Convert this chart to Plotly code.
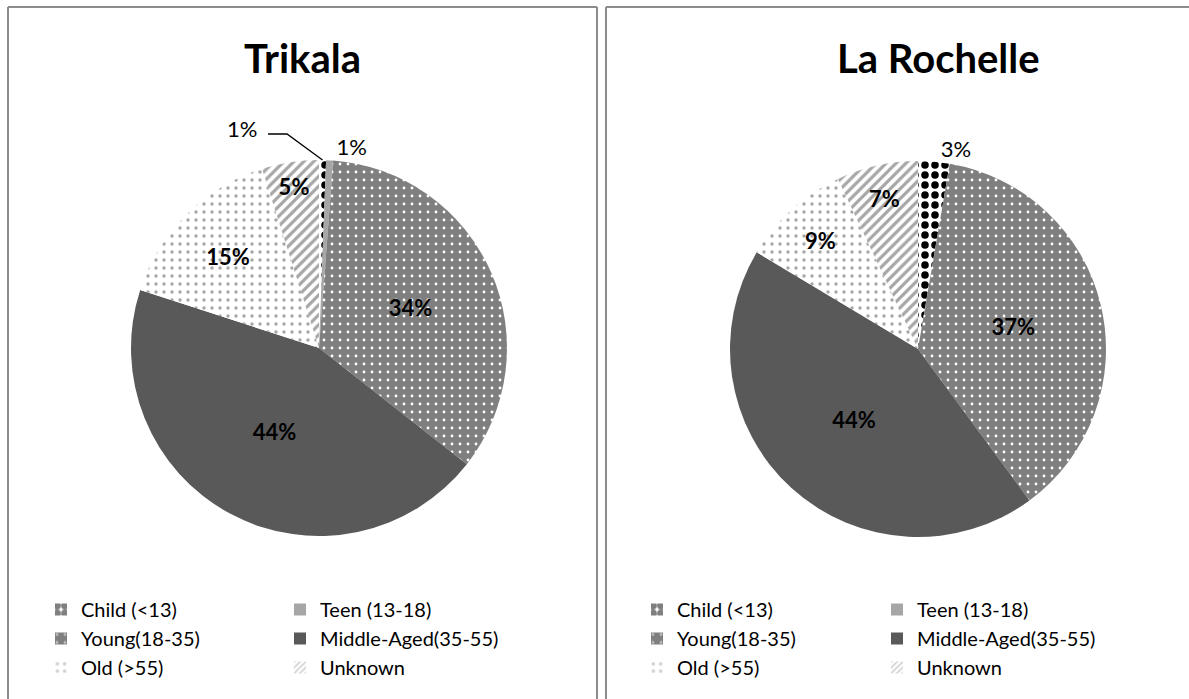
import math
import plotly.graph_objects as go

# ---------------- data ----------------
categories = ["Child (<13)", "Teen (13-18)", "Young(18-35)",
              "Middle-Aged(35-55)", "Old (>55)", "Unknown"]
city_names = ["Trikala", "La Rochelle"]
trikala_values = [0.6, 0.6, 34.4, 44.4, 15.1, 4.9]
la_rochelle_values = [2.7, 0.0, 37.2, 43.7, 9.4, 7.0]

# ---------------- styles ----------------
W, H = 1189, 699
FONT = "Lato"
bg_colors = ["#ffffff", "#a6a6a6", "#7f7f7f", "#595959", "#ffffff", "#ffffff"]
pat_shapes = [".", "", ".", "", ".", "/"]
pat_fg = ["#000000", "#a6a6a6", "#ffffff", "#595959", "#a6a6a6", "#a6a6a6"]
pat_size = [10, 8, 8, 8, 8, 7]
pat_solid = [0.45, 0.3, 0.1, 0.3, 0.14, 0.45]
leg_size = [12, 8, 12, 8, 9, 5]
leg_solid = [0.75, 0.3, 0.1, 0.3, 0.2, 0.45]


def px_x(v):
    return v / W


def px_y(v):
    return 1 - v / H


def pattern():
    return dict(shape=pat_shapes, fgcolor=pat_fg, bgcolor=bg_colors,
                size=pat_size, solidity=pat_solid, fillmode="replace")


fig = go.Figure()

pies = [
    (trikala_values, (131, 507), (160, 536)),
    (la_rochelle_values, (730, 1106), (161, 537)),
]
leader_slices = []
for k, (vals, (x0, x1), (y0, y1)) in enumerate(pies):
    total = sum(vals)
    pos = []
    for j, v in enumerate(vals):
        if v == 0:
            pos.append("none")
        elif v / total < 0.04:
            # first tiny slice of Trikala gets a leader-line label
            if k == 0 and j == 0:
                pos.append("none")
                leader_slices.append((vals, j, (x0, x1), (y0, y1)))
            else:
                pos.append("outside")
        else:
            pos.append("inside")
    fig.add_trace(go.Pie(
        labels=categories, values=vals, sort=False, direction="clockwise",
        rotation=0,
        domain=dict(x=[px_x(x0), px_x(x1)], y=[px_y(y1), px_y(y0)]),
        marker=dict(colors=bg_colors, pattern=pattern(), line=dict(width=0)),
        texttemplate="%{percent:.0%}", textposition=pos,
        insidetextorientation="horizontal",
        insidetextfont=dict(family=FONT, size=22, color="black", weight="bold"),
        outsidetextfont=dict(family=FONT, size=22, color="black"),
        showlegend=False, hoverinfo="label+percent",
    ))

# label with leader line for the tiny slice
for vals, j, (x0, x1), (y0, y1) in leader_slices:
    total = sum(vals)
    cx, cy, r = (x0 + x1) / 2, (y0 + y1) / 2, (x1 - x0) / 2
    mid = 2 * math.pi * (sum(vals[:j]) + vals[j] / 2) / total
    tip_x, tip_y = cx + r * math.sin(mid), cy - r * math.cos(mid)
    pct = round(100 * vals[j] / total)
    fig.add_annotation(text=f"{pct}%", x=px_x(242), y=px_y(129),
                       xref="paper", yref="paper", showarrow=False,
                       xanchor="center", yanchor="middle",
                       font=dict(family=FONT, size=22, color="black"))
    fig.add_shape(type="path", xref="paper", yref="paper",
                  path=(f"M {px_x(268)},{px_y(134)} L {px_x(287)},{px_y(134)} "
                        f"L {px_x(tip_x)},{px_y(tip_y)}"),
                  line=dict(color="black", width=1.3))

# legend entries (two columns per panel)
legend_cols = [("legend", [0, 2, 4]), ("legend2", [1, 3, 5]),
               ("legend3", [0, 2, 4]), ("legend4", [1, 3, 5])]
for lg, idxs in legend_cols:
    for i in idxs:
        fig.add_trace(go.Bar(
            x=[None], y=[None], name=categories[i], legend=lg,
            marker=dict(color=bg_colors[i], line=dict(width=0),
                        pattern=dict(shape=pat_shapes[i], fgcolor=pat_fg[i],
                                     bgcolor=bg_colors[i], size=leg_size[i],
                                     solidity=leg_solid[i])),
            showlegend=True, hoverinfo="skip",
        ))

leg_common = dict(orientation="v", traceorder="normal", bgcolor="rgba(0,0,0,0)",
                  font=dict(family=FONT, size=20, color="black"),
                  xanchor="left", yanchor="top", itemclick=False,
                  itemdoubleclick=False)
leg_top = px_y(590)
fig.update_layout(
    legend=dict(x=px_x(41), y=leg_top, **leg_common),
    legend2=dict(x=px_x(280), y=leg_top, **leg_common),
    legend3=dict(x=px_x(637), y=leg_top, **leg_common),
    legend4=dict(x=px_x(877), y=leg_top, **leg_common),
)

# titles
for name, cx in zip(city_names, [302, 938]):
    fig.add_annotation(text="<b>" + name + "</b>", x=px_x(cx), y=px_y(58),
                       xref="paper", yref="paper", showarrow=False,
                       xanchor="center", yanchor="middle",
                       font=dict(family=FONT, size=40, color="black"))

# panel borders
border = dict(color="#8c8c8c", width=2)
for (xa, ya, xb, yb) in [(8, 7, 8, 700), (8, 7, 597, 7), (597, 7, 597, 700),
                         (606, 7, 606, 700), (606, 7, 1190, 7)]:
    fig.add_shape(type="line", xref="paper", yref="paper",
                  x0=px_x(xa), y0=px_y(ya), x1=px_x(xb), y1=px_y(yb), line=border)

fig.update_layout(
    width=W, height=H, margin=dict(l=0, r=0, t=0, b=0),
    paper_bgcolor="white", plot_bgcolor="white",
    xaxis=dict(visible=False), yaxis=dict(visible=False),
    font=dict(family=FONT, color="black"),
)

fig.write_html("out.html", config={"displayModeBar": False},
               post_script="document.body.style.margin='0';")
